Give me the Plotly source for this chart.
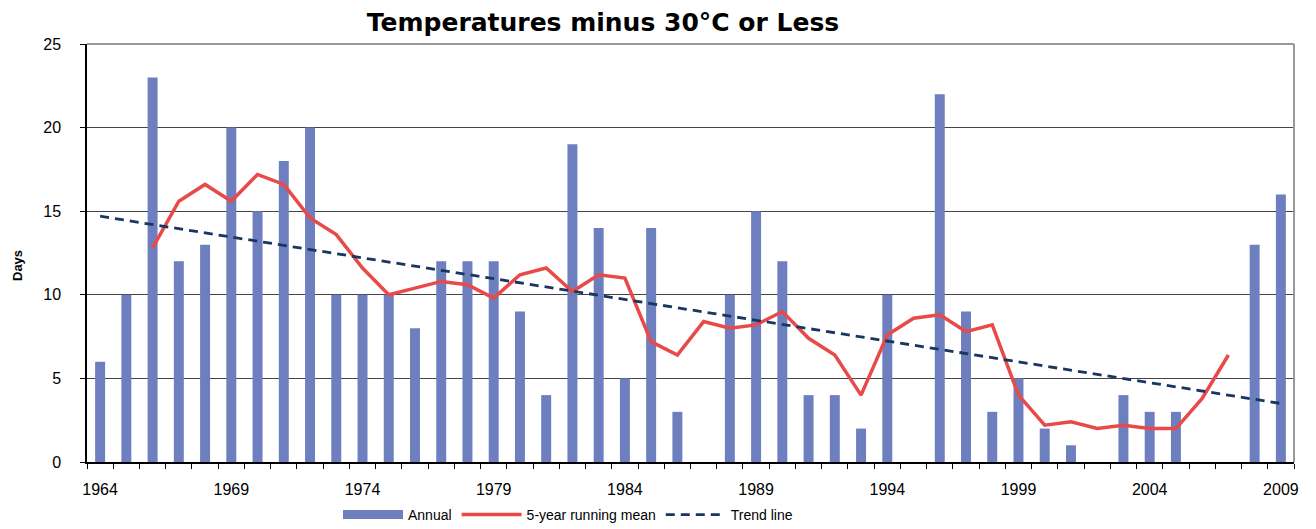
import plotly.graph_objects as go

years = list(range(1964, 2010))
annual = [6, 10, 23, 12, 13, 20, 15, 18, 20, 10, 10, 10, 8, 12, 12, 12, 9, 4, 19, 14,
          5, 14, 3, 0, 10, 15, 12, 4, 4, 2, 10, 0, 22, 9, 3, 5, 2, 1, 0, 4, 3, 3, 0, 0, 13, 16]
mean_years = list(range(1966, 2008))
running_mean = [12.8, 15.6, 16.6, 15.6, 17.2, 16.6, 14.6, 13.6, 11.6, 10.0, 10.4, 10.8,
                10.6, 9.8, 11.2, 11.6, 10.2, 11.2, 11.0, 7.2, 6.4, 8.4, 8.0, 8.2, 9.0,
                7.4, 6.4, 4.0, 7.6, 8.6, 8.8, 7.8, 8.2, 4.0, 2.2, 2.4, 2.0, 2.2, 2.0,
                2.0, 3.8, 6.4]
trend_years = [1964, 2009]
trend_values = [14.7, 3.5]
label_years = [1964, 1969, 1974, 1979, 1984, 1989, 1994, 1999, 2004, 2009]

FONT = "Liberation Sans, Arial, sans-serif"
TITLE_FONT = "DejaVu Sans, Liberation Sans, Arial, sans-serif"
BAR_COLOR = "#6E7FC0"
W, H = 1308, 521  # page adds an 8px body margin

fig = go.Figure()
fig.add_trace(go.Bar(x=years, y=annual, name="Annual", width=0.38, showlegend=False,
                     marker=dict(color=BAR_COLOR, line=dict(width=0))))
# legend entry for the bars (wide rectangle swatch)
fig.add_trace(go.Scatter(x=[None], y=[None], name="Annual", mode="lines",
                         line=dict(color=BAR_COLOR, width=9)))
fig.add_trace(go.Scatter(x=mean_years, y=running_mean, name="5-year running mean",
                         mode="lines", line=dict(color="#E84A4A", width=3.5)))
fig.add_trace(go.Scatter(x=trend_years, y=trend_values, name="Trend line",
                         mode="lines", line=dict(color="#17375E", width=2.8, dash="9px,6px")))

fig.update_layout(
    width=W, height=H,
    margin=dict(l=79, r=22, t=36, b=67, autoexpand=False),
    paper_bgcolor="white", plot_bgcolor="white",
    font=dict(family=FONT, color="black", size=13),
    title=dict(text="<b>Temperatures minus 30°C or Less</b>", x=595/W, xanchor="center",
               xref="container", yref="container", y=1 - 14.5/H, yanchor="middle",
               font=dict(size=25, family=TITLE_FONT), automargin=False),
    showlegend=True,
    legend=dict(orientation="h", xref="container", yref="container",
                x=330/W, xanchor="left", y=1 - 507/H, yanchor="middle",
                font=dict(size=14), itemwidth=60, traceorder="normal"),
    annotations=[dict(text="<b>Days</b>", xref="paper", yref="paper",
                      x=-(79 - 9) / (W - 79 - 22), y=(454 - 258) / (454 - 36),
                      xanchor="center", yanchor="middle", textangle=-90,
                      showarrow=False, font=dict(size=13, family=FONT))],
)
fig.update_xaxes(
    range=[1963.5, 2009.5], tickmode="array", tickvals=label_years,
    ticktext=[str(y) for y in label_years], ticks="", ticklen=0,
    showgrid=False, zeroline=False, showline=True, linecolor="black", linewidth=1.5,
    tickfont=dict(size=16), automargin=False, ticklabelstandoff=12,
    minor=dict(tick0=1963.5, dtick=1, ticks="outside", ticklen=5, tickcolor="black", showgrid=False),
)
fig.update_yaxes(
    range=[0, 25], dtick=5, ticks="outside", ticklen=5, tickcolor="black",
    showgrid=True, gridcolor="#444444", gridwidth=1, zeroline=False,
    showline=True, linecolor="black", linewidth=1.5, tickfont=dict(size=16),
    ticklabelstandoff=16, automargin=False,
)
fig.add_shape(type="line", xref="paper", yref="paper", x0=0, x1=1, y0=1, y1=1,
              line=dict(color="#999999", width=2))
fig.add_shape(type="line", xref="paper", yref="paper", x0=1, x1=1, y0=0, y1=1,
              line=dict(color="#999999", width=2))

fig.write_html("out.html")
